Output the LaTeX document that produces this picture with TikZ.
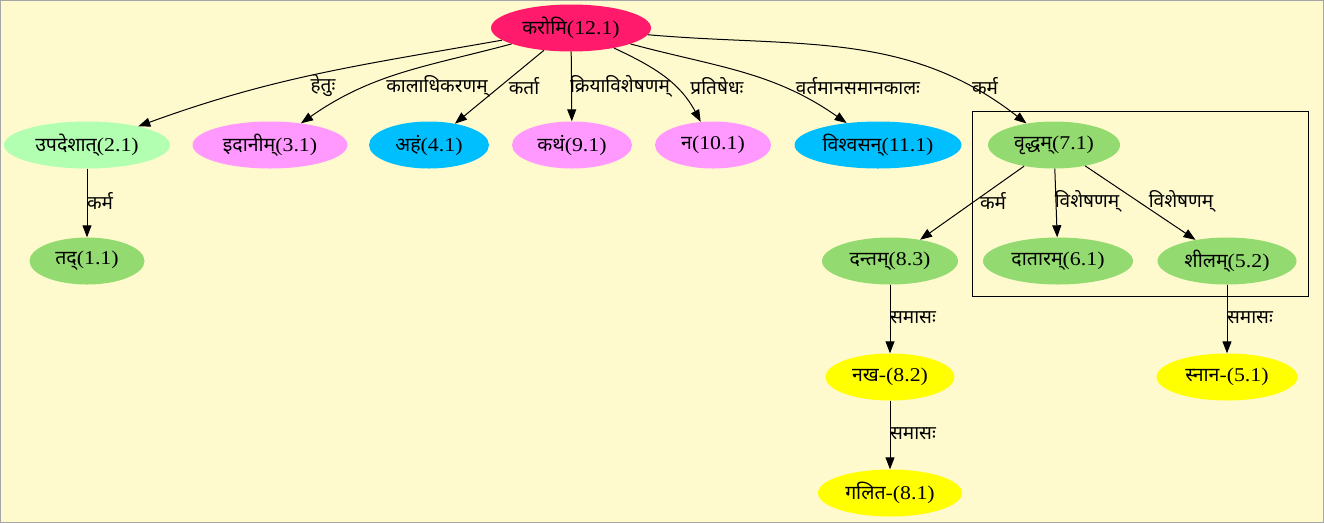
\documentclass[tikz,border=0pt]{standalone}
\usepackage{fontspec}
\setmainfont[FakeStretch=1.12]{Liberation Serif}
\newfontfamily\deva[Script=Devanagari]{Noto Sans}
\newcommand{\dv}[1]{{\deva #1}}
\usetikzlibrary{shapes.geometric,arrows.meta}
\definecolor{bgcol}{RGB}{255,250,205}
\definecolor{rootcol}{RGB}{255,26,108}
\definecolor{palegr}{RGB}{178,255,178}
\definecolor{leafgr}{RGB}{147,219,112}
\definecolor{violetp}{RGB}{255,153,255}
\definecolor{skyb}{RGB}{0,191,255}
\definecolor{yel}{RGB}{255,255,0}
\tikzset{word/.style={ellipse,inner sep=0pt,minimum height=47pt,font=\fontsize{19.5}{22}\selectfont},
	 rel/.style={inner sep=1pt,font=\fontsize{19}{22}\selectfont},
	 dep/.style={line width=1pt,-{Triangle[length=12pt,width=9pt]}}
	 }

\begin{document}
\begin{tikzpicture}[x=1pt,y=-1pt]
	\useasboundingbox (0,0) rectangle (1324,523);
	\fill[bgcol] (0,0) rectangle (1324,523);
	\draw[gray!70] (0.5,0.5) rectangle (1323.5,522.5);
	\draw[line width=1pt] (972,111) rectangle (1308,296);
	% words
	\node[word, fill=rootcol, minimum width=160pt] (n12) at (571,28) {\dv{करोमि}(12.1)};
	\node[word, fill=palegr, minimum width=166pt] (n2) at (87,145) {\dv{उपदेशात्}(2.1)};
	\node[word, fill=violetp, minimum width=155pt] (n3) at (270,145) {\dv{इदानीम्}(3.1)};
	\node[word, fill=skyb, minimum width=120pt] (n4) at (429,145) {\dv{अहं}(4.1)};
	\node[word, fill=violetp, minimum width=120pt] (n9) at (572,145) {\dv{कथं}(9.1)};
	\node[word, fill=violetp, minimum width=116pt] (n10) at (713,145) {\dv{न}(10.1)};
	\node[word, fill=skyb, minimum width=167pt] (n11) at (878,145) {\dv{विश्वसन्}(11.1)};
	\node[word, fill=leafgr, minimum width=132pt] (n7) at (1054,145) {\dv{वृद्धम्}(7.1)};
	\node[word, fill=leafgr, minimum width=115pt] (n1) at (87,261) {\dv{तद्}(1.1)};
	\node[word, fill=leafgr, minimum width=136pt] (n83) at (890,261) {\dv{दन्तम्}(8.3)};
	\node[word, fill=leafgr, minimum width=150pt] (n6) at (1058,261) {\dv{दातारम्}(6.1)};
	\node[word, fill=leafgr, minimum width=139pt] (n52) at (1227,261) {\dv{शीलम्}(5.2)};
	\node[word, fill=yel, minimum width=129pt] (n82) at (890,377) {\dv{नख}-(8.2)};
	\node[word, fill=yel, minimum width=141pt] (n51) at (1227,377) {\dv{स्नान}-(5.1)};
	\node[word, fill=yel, minimum width=144pt] (n81) at (890,493) {\dv{गलित}-(8.1)};
	% relations
	\node[rel] (r2) at (323,86) {\dv{हेतुः}};
	\node[rel] (r3) at (437,86) {\dv{कालाधिकरणम्}};
	\node[rel] (r4) at (524,86) {\dv{कर्ता}};
	\node[rel] (r9) at (620,86) {\dv{क्रियाविशेषणम्}};
	\node[rel] (r10) at (717,86) {\dv{प्रतिषेधः}};
	\node[rel] (r11) at (858,86) {\dv{वर्तमानसमानकालः}};
	\node[rel] (r7) at (985,86) {\dv{कर्म}};
	\node[rel] (r1) at (100,201) {\dv{कर्म}};
	\node[rel] (r83) at (993,201) {\dv{कर्म}};
	\node[rel] (r6) at (1087,201) {\dv{विशेषणम्}};
	\node[rel] (r52) at (1181,201) {\dv{विशेषणम्}};
	\node[rel] (r82) at (913,318) {\dv{समासः}};
	\node[rel] (r81) at (913,434) {\dv{समासः}};
	\node[rel] (r51) at (1250,318) {\dv{समासः}};
	\draw[dep] (n12) to[out=190,in=20] (n2);
	\draw[dep] (n12) to[out=195,in=35] (n3);
	\draw[dep] (n12) -- (n4);
	\draw[dep] (n12) -- (n9);
	\draw[dep] (n12) to[out=-25,in=118] (n10);
	\draw[dep] (n12) to[out=-15,in=145] (n11);
	\draw[dep] (n12) to[out=-5,in=142] (n7);
	\draw[dep] (n2) -- (n1);
	\draw[dep] (n7) -- (n83);
	\draw[dep] (n7) -- (n6);
	\draw[dep] (n7) -- (n52);
	\draw[dep] (n83) -- (n82);
	\draw[dep] (n82) -- (n81);
	\draw[dep] (n52.south) -- (n51.north);
\end{tikzpicture}
\end{document}
